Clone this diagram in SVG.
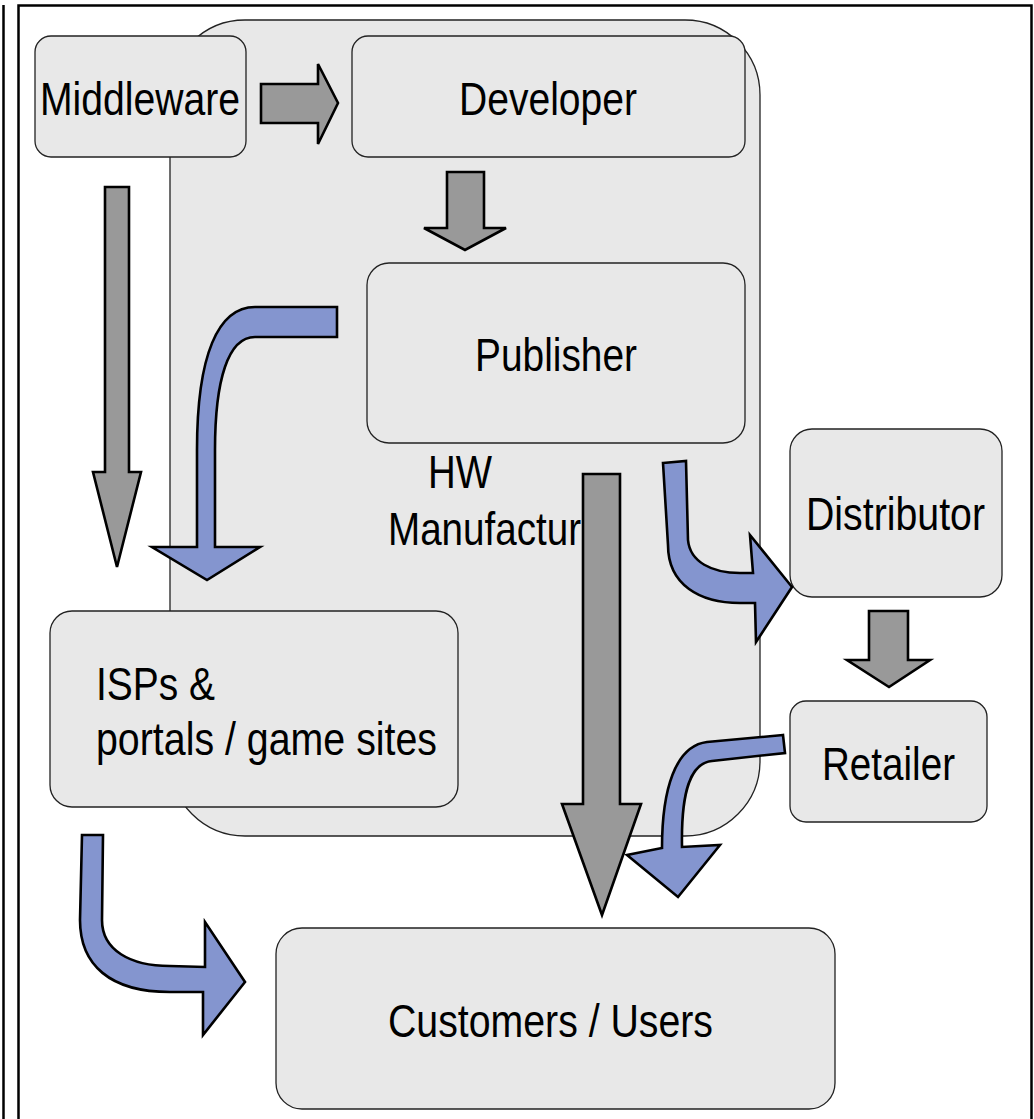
<svg xmlns="http://www.w3.org/2000/svg" width="1034" height="1119" viewBox="0 0 1034 1119">
<style>
.box{fill:#e8e8e8;stroke:#222;stroke-width:1.3}
.lbl{font-family:"Liberation Sans",Arial,sans-serif;font-size:46px;fill:#000}
.ga{fill:#999999;stroke:#000;stroke-width:2.6;stroke-linejoin:miter}
.ba{fill:#8495cf;stroke:#000;stroke-width:2.6;stroke-linejoin:miter}
</style>
<rect width="1034" height="1119" fill="#fff"/>
<g id="frame" fill="none" stroke="#000" stroke-width="2.5">
<line x1="3.5" y1="5" x2="3.5" y2="1119"/>
<polyline points="18.5,1119 18.5,5.5 1031.5,5.5 1031.5,1119"/>
</g>
<g id="hw-manufacturer">
<rect class="box" x="170" y="20" width="590" height="816" rx="75" ry="75"/>
</g>
<g id="middleware">
<rect class="box" x="35" y="36" width="211" height="121" rx="16"/>
<text class="lbl" x="40" y="115" textLength="200" lengthAdjust="spacingAndGlyphs">Middleware</text>
</g>
<g id="developer">
<rect class="box" x="352" y="36" width="393" height="121" rx="16"/>
<text class="lbl" x="459" y="115" textLength="178" lengthAdjust="spacingAndGlyphs">Developer</text>
</g>
<g id="publisher">
<rect class="box" x="367" y="263" width="378" height="180" rx="22"/>
<text class="lbl" x="475" y="371" textLength="162" lengthAdjust="spacingAndGlyphs">Publisher</text>
</g>
<g id="hw-label">
<text class="lbl" x="428" y="488" textLength="64" lengthAdjust="spacingAndGlyphs">HW</text>
<text class="lbl" x="388" y="545" textLength="193" lengthAdjust="spacingAndGlyphs">Manufactur</text>
</g>
<g id="distributor">
<rect class="box" x="790" y="429" width="212" height="168" rx="22"/>
<text class="lbl" x="806" y="530" textLength="179" lengthAdjust="spacingAndGlyphs">Distributor</text>
</g>
<g id="retailer">
<rect class="box" x="790" y="701" width="197" height="121" rx="16"/>
<text class="lbl" x="822" y="780" textLength="133" lengthAdjust="spacingAndGlyphs">Retailer</text>
</g>
<g id="isps">
<rect class="box" x="50" y="611" width="408" height="196" rx="22"/>
<text class="lbl" x="96" y="700" textLength="119" lengthAdjust="spacingAndGlyphs">ISPs &amp;</text>
<text class="lbl" x="96" y="755" textLength="341" lengthAdjust="spacingAndGlyphs">portals / game sites</text>
</g>
<g id="customers">
<rect class="box" x="276" y="928" width="559" height="181" rx="26"/>
<text class="lbl" x="388" y="1037" textLength="325" lengthAdjust="spacingAndGlyphs">Customers / Users</text>
</g>
<g id="connectors">
<path class="ga" d="M261,84 L318,84 L318,64 L338,103 L318,144 L318,123 L261,123 Z"/>
<path class="ga" d="M447,172 L484,172 L484,228 L506,228 L465,250 L424,228 L447,228 Z"/>
<path class="ga" d="M105,187 L129,187 L129,472 L141,472 L117,567 L93,472 L105,472 Z"/>
<path class="ga" d="M583,474 L620,474 L620,804 L641,804 L602,915 L562,804 L583,804 Z"/>
<path class="ga" d="M869,611 L908,611 L908,660 L930,660 L889,687 L847,660 L869,660 Z"/>
<path class="ba" d="M337,307 L255,307 C218,307 197,355 197,450 L197,547 L152,547 L207,580 L260,547 L215,547 L215,450 C215,380 228,337 255,337 L337,337 Z"/>
<path class="ba" d="M663,463 L686,461 L688,540 C690,562 712,573 740,573 L753,573 L750,535 L792,587 L756,642 L755,603 L740,603 C700,603 668,585 668,545 Z"/>
<path class="ba" d="M783,735 L707,742 C675,746 662,790 662,848 L627,855 L678,897 L720,845 L682,847 C681,792 690,763 712,761 L785,753 Z"/>
<path class="ba" d="M82,835 L103,835 L102,920 C102,950 130,966 170,966 L205,967 L205,922 L245,982 L203,1035 L203,992 L170,992 C110,992 80,965 80,920 Z"/>
</g>
</svg>
